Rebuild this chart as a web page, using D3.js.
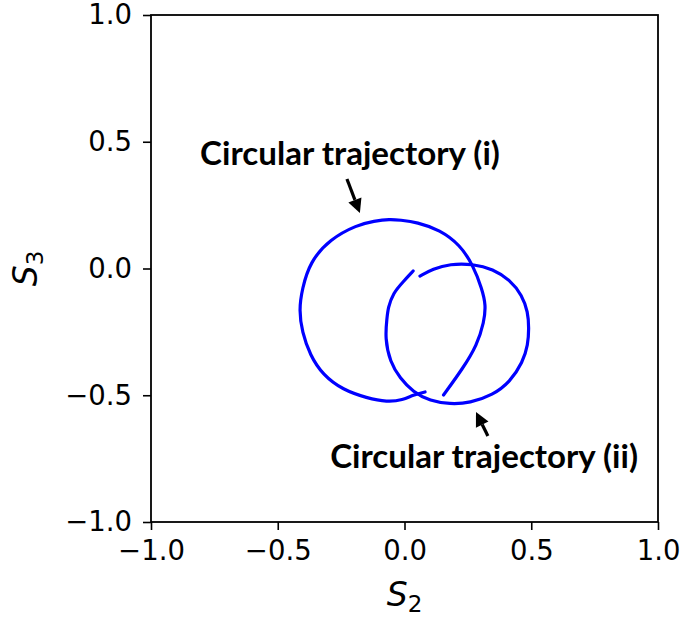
<!DOCTYPE html>
<html>
<head>
<meta charset="utf-8">
<script src="https://cdn.jsdelivr.net/npm/d3@7"></script>
<style>
  html, body { margin: 0; padding: 0; background: #fff; }
  svg { display: block; }
</style>
</head>
<body>
<svg id="chart" width="684" height="620"></svg>
<script>
// Polarisation trajectories on the S2–S3 plane
const xTicks = [-1.0, -0.5, 0.0, 0.5, 1.0];
const yTicks = [-1.0, -0.5, 0.0, 0.5, 1.0];

// Trajectory (i): the larger loop
const trajI_S2 = [0.154, 0.231, 0.286, 0.314, 0.321, 0.306, 0.270, 0.219, 0.140, 0.049, -0.018, -0.057,
                  -0.120, -0.187, -0.294, -0.373, -0.404, -0.416, -0.404, -0.373, -0.322, -0.243, -0.148,
                  -0.069, -0.006, 0.034, 0.081];
const trajI_S3 = [-0.499, -0.393, -0.302, -0.211, -0.144, -0.081, 0.014, 0.093, 0.152, 0.183, 0.191, 0.195,
                  0.187, 0.172, 0.116, 0.026, -0.081, -0.164, -0.250, -0.341, -0.420, -0.479, -0.511,
                  -0.527, -0.519, -0.499, -0.487];

// Trajectory (ii): the smaller loop
const trajII_S2 = [0.061, 0.112, 0.179, 0.270, 0.349, 0.416, 0.464, 0.487, 0.491, 0.487, 0.467, 0.416,
                   0.349, 0.258, 0.179, 0.101, 0.034, -0.018, -0.057, -0.077, -0.069, -0.065, -0.045,
                   -0.006, 0.034];
const trajII_S3 = [-0.030, -0.002, 0.018, 0.018, -0.002, -0.045, -0.105, -0.172, -0.235, -0.302, -0.369, -0.448,
                   -0.499, -0.531, -0.535, -0.523, -0.487, -0.432, -0.369, -0.274, -0.195, -0.156, -0.097,
                   -0.053, -0.010];

// Annotation labels and their arrows (text anchor, arrow tail, arrow tip) in S2/S3 units
const labels = ["Circular trajectory (i)", "Circular trajectory (ii)"];
const labelS2 = [-0.215, 0.314];
const labelS3 = [0.408, -0.787];
const arrowTailS2 = [-0.227, 0.329];
const arrowTailS3 = [0.353, -0.661];
const arrowTipS2 = [-0.176, 0.282];
const arrowTipS3 = [0.219, -0.566];

const svg = d3.select("#chart");
const plotLeft = 151, plotTop = 15, plotSize = 507;

const x = d3.scaleLinear().domain([-1, 1]).range([plotLeft, plotLeft + plotSize]);
const y = d3.scaleLinear().domain([-1, 1]).range([plotTop + plotSize, plotTop]);

const fmt = v => d3.format(".1f")(v).replace("-", "\u2212");

// Axes
const xAxis = svg.append("g")
  .attr("transform", `translate(0,${plotTop + plotSize})`)
  .call(d3.axisBottom(x).tickValues(xTicks).tickFormat(fmt).tickSize(8).tickPadding(10));
const yAxis = svg.append("g")
  .attr("transform", `translate(${plotLeft},0)`)
  .call(d3.axisLeft(y).tickValues(yTicks).tickFormat(fmt).tickSize(8).tickPadding(11));

[xAxis, yAxis].forEach(g => {
  g.select(".domain").remove();
  g.selectAll(".tick line").attr("stroke", "#000").attr("stroke-width", 1.6);
  g.selectAll(".tick text")
    .attr("fill", "#000")
    .style("font-family", "'DejaVu Sans', sans-serif")
    .style("font-size", "27.5px");
});

// Frame
svg.append("rect")
  .attr("x", plotLeft).attr("y", plotTop).attr("width", plotSize).attr("height", plotSize)
  .attr("fill", "none").attr("stroke", "#000").attr("stroke-width", 1.8);

// Trajectories
const line = d3.line()
  .x(d => x(d[0])).y(d => y(d[1]))
  .curve(d3.curveBasis);

const series = [
  d3.zip(trajI_S2, trajI_S3),
  d3.zip(trajII_S2, trajII_S3)
];
svg.append("g").selectAll("path")
  .data(series)
  .join("path")
  .attr("d", line)
  .attr("fill", "none")
  .attr("stroke", "#0000ff")
  .attr("stroke-width", 3.2)
  .attr("stroke-linecap", "round")
  .attr("stroke-linejoin", "round");

// Annotation arrows
const ann = svg.append("g");
labels.forEach((t, i) => {
  const x0 = x(arrowTailS2[i]), y0 = y(arrowTailS3[i]);
  const x1 = x(arrowTipS2[i]), y1 = y(arrowTipS3[i]);
  const ang = Math.atan2(y1 - y0, x1 - x0);
  const headLen = 14, headHalf = 7;
  const bx = x1 - headLen * Math.cos(ang), by = y1 - headLen * Math.sin(ang);
  const px = -Math.sin(ang), py = Math.cos(ang);
  ann.append("line")
    .attr("x1", x0).attr("y1", y0).attr("x2", bx).attr("y2", by)
    .attr("stroke", "#000").attr("stroke-width", 3.2);
  ann.append("path")
    .attr("d", `M${x1},${y1}L${bx + px * headHalf},${by + py * headHalf}L${bx - px * headHalf},${by - py * headHalf}Z`)
    .attr("fill", "#000");

  const txt = ann.append("text")
    .attr("x", x(labelS2[i])).attr("y", y(labelS3[i]))
    .attr("text-anchor", "middle")
    .style("font-family", "Lato, 'Open Sans', sans-serif")
    .style("font-weight", "bold")
    .style("font-size", "28px")
    .attr("fill", "#000")
    .text(t);
  const target = i === 0 ? 300 : 308;
  const len = txt.node().getComputedTextLength();
  txt.style("font-size", (28 * target / len).toFixed(2) + "px");
});

// Axis titles with subscripts
function mathLabel(g, sub) {
  const t = g.append("text")
    .attr("text-anchor", "middle")
    .style("font-family", "'DejaVu Sans', sans-serif")
    .style("font-size", "33px")
    .attr("fill", "#000");
  t.append("tspan").style("font-style", "italic").text("S");
  t.append("tspan").attr("dy", 6).style("font-size", "23px").text(sub);
}
mathLabel(svg.append("g").attr("transform", `translate(${plotLeft + plotSize / 2},606)`), "2");
mathLabel(svg.append("g").attr("transform", `translate(37,${plotTop + plotSize / 2}) rotate(-90)`), "3");
</script>
</body>
</html>
